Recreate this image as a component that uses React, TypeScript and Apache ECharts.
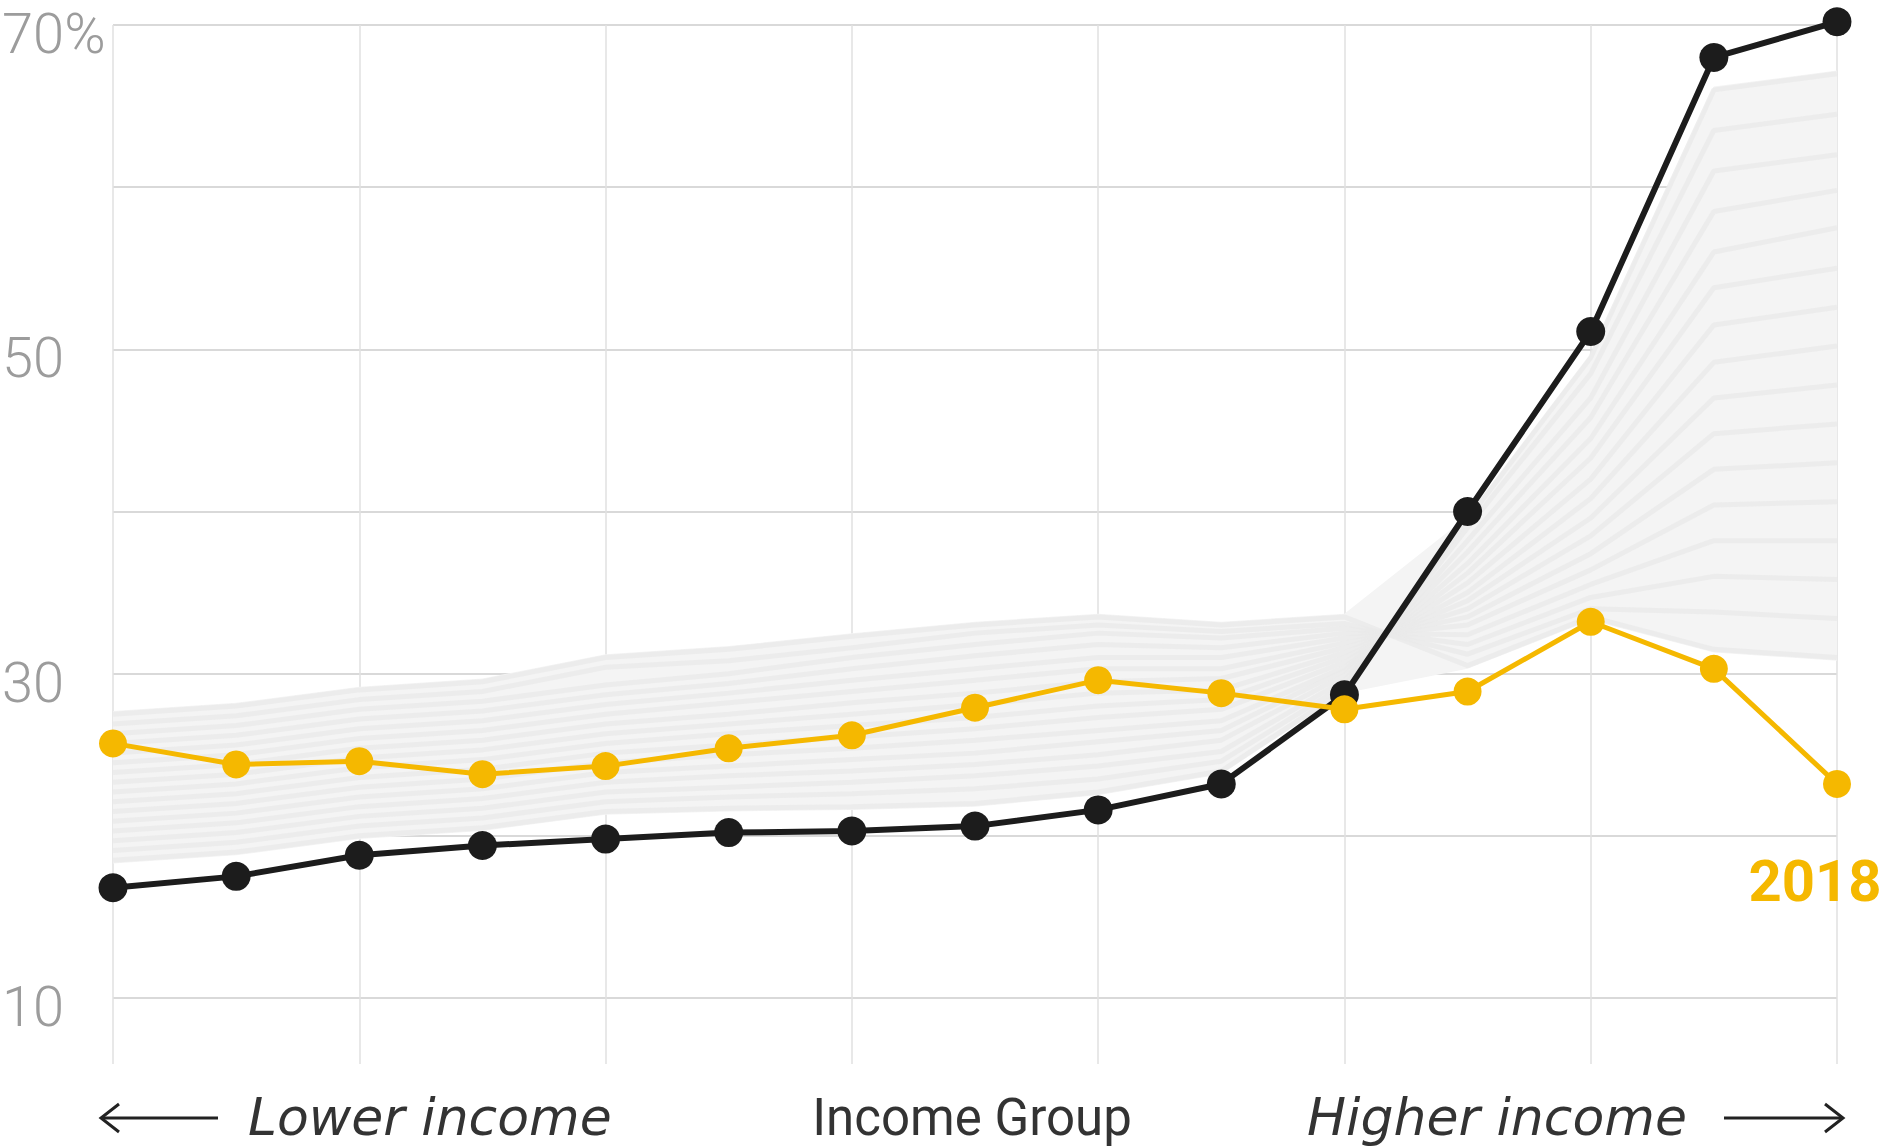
import React, { useEffect, useRef } from "react";
import * as echarts from "echarts";

// Income groups, lowest to highest
const groups = ["1", "2", "3", "4", "5", "6", "7", "8", "9", "10", "11", "12", "13", "14", "15"];

// Highlighted early year (black) and 2018 (yellow), percent
const earlyYear = [16.8, 17.5, 18.8, 19.4, 19.8, 20.2, 20.3, 20.6, 21.6, 23.2, 28.7, 40.0, 51.1, 68.0, 70.2];
const year2018 = [25.7, 24.4, 24.6, 23.8, 24.3, 25.4, 26.2, 27.9, 29.6, 28.8, 27.8, 28.9, 33.2, 30.3, 23.2];

// Background years (light gray)
const gray01 = [18.5, 19.0, 20.0, 20.5, 21.5, 21.7, 21.8, 22.0, 22.7, 24.0, 29.0, 39.5, 49.5, 66.0, 67.0];
const gray02 = [19.1, 19.6, 20.6, 21.1, 22.1, 22.4, 22.6, 22.9, 23.5, 24.6, 29.3, 39.0, 48.5, 63.5, 64.5];
const gray03 = [19.7, 20.2, 21.2, 21.7, 22.7, 23.0, 23.3, 23.7, 24.3, 25.2, 29.6, 38.2, 47.0, 61.0, 62.0];
const gray04 = [20.3, 20.8, 21.8, 22.3, 23.3, 23.7, 24.0, 24.4, 25.0, 25.9, 29.9, 37.5, 45.8, 58.5, 59.8];
const gray05 = [20.9, 21.4, 22.4, 22.9, 23.9, 24.3, 24.7, 25.1, 25.8, 26.5, 30.2, 36.8, 44.5, 56.0, 57.5];
const gray06 = [21.5, 22.0, 23.0, 23.5, 24.5, 25.0, 25.4, 25.9, 26.5, 27.1, 30.4, 36.2, 43.3, 53.8, 55.0];
const gray07 = [22.1, 22.6, 23.6, 24.1, 25.1, 25.6, 26.1, 26.6, 27.3, 27.8, 30.7, 35.6, 42.0, 51.5, 52.6];
const gray08 = [22.7, 23.2, 24.2, 24.7, 25.7, 26.3, 26.8, 27.3, 28.0, 28.4, 31.0, 35.0, 40.8, 49.2, 50.2];
const gray09 = [23.3, 23.8, 24.8, 25.3, 26.3, 26.9, 27.5, 28.1, 28.8, 29.0, 31.3, 34.5, 39.6, 47.0, 47.8];
const gray10 = [23.9, 24.4, 25.4, 25.9, 26.9, 27.5, 28.2, 28.8, 29.5, 29.7, 31.6, 34.0, 38.5, 44.8, 45.4];
const gray11 = [24.5, 25.0, 26.0, 26.5, 27.5, 28.2, 28.9, 29.6, 30.3, 30.3, 31.9, 33.5, 37.4, 42.6, 43.0];
const gray12 = [25.1, 25.6, 26.6, 27.1, 28.1, 28.8, 29.6, 30.3, 31.0, 31.0, 32.2, 33.0, 36.4, 40.4, 40.6];
const gray13 = [25.7, 26.2, 27.2, 27.7, 28.7, 29.4, 30.3, 31.1, 31.8, 31.6, 32.5, 32.4, 35.5, 38.2, 38.2];
const gray14 = [26.3, 26.8, 27.8, 28.3, 29.3, 30.0, 31.0, 31.8, 32.5, 32.2, 32.8, 31.8, 34.7, 36.0, 35.8];
const gray15 = [26.9, 27.4, 28.4, 28.9, 30.4, 30.8, 31.6, 32.5, 33.0, 32.6, 33.1, 31.2, 34.0, 33.8, 33.4];
const gray16 = [27.5, 28.0, 29.0, 29.5, 31.0, 31.5, 32.3, 33.0, 33.5, 33.0, 33.5, 30.5, 33.5, 31.5, 31.0];

const grayYears = [gray01, gray02, gray03, gray04, gray05, gray06, gray07, gray08, gray09, gray10, gray11, gray12, gray13, gray14, gray15, gray16];

// Envelope of all background years
const bandLow = [18.3, 18.8, 19.8, 20.3, 21.3, 21.5, 21.6, 21.8, 22.5, 23.8, 28.8, 30.3, 33.3, 31.3, 30.8];
const bandHigh = [27.7, 28.2, 29.2, 29.7, 31.2, 31.7, 32.5, 33.2, 33.7, 33.2, 33.7, 39.7, 49.7, 66.2, 67.2];

// Y tick labels
const yLabelValues = [10, 30, 50, 70];
const yLabelTexts = ["10", "30", "50", "70%"];

const highlightLabel = "2018";
const xTitle = "Income Group";
const xLeft = "Lower income";
const xRight = "Higher income";

const YELLOW = "#F5B800";
const BLACK = "#1c1c1c";

export default function App() {
  const ref = useRef<HTMLDivElement>(null);

  useEffect(() => {
    if (!ref.current) return;
    const chart = echarts.init(ref.current, null, { renderer: "svg" });

    const yellowData = year2018.map((v, i) =>
      i === year2018.length - 1
        ? {
            value: v,
            label: {
              show: true,
              formatter: highlightLabel,
              position: "inside",
              offset: [-22, 97],
              color: YELLOW,
              fontSize: 58,
              fontWeight: "bold",
              fontFamily: "Roboto",
            },
          }
        : v
    );

    const bandSpan = bandHigh.map((h, i) => +(h - bandLow[i]).toFixed(2));

    const option: any = {
      animation: false,
      backgroundColor: "#ffffff",
      grid: { left: 113, right: 60, top: 25, bottom: 150, containLabel: false, outerBoundsMode: "none" },
      xAxis: {
        type: "category",
        data: groups,
        boundaryGap: false,
        axisLine: { show: false },
        axisLabel: { show: false },
        axisTick: { show: true, interval: 1, length: 66, lineStyle: { color: "#e0e0e0", width: 1.5 } },
        splitLine: { show: true, interval: 1, lineStyle: { color: "#e0e0e0", width: 1.5 } },
      },
      yAxis: {
        type: "value",
        min: 10,
        max: 70,
        interval: 10,
        axisLine: { show: false },
        axisTick: { show: false },
        splitLine: { lineStyle: { color: "#d9d9d9", width: 2 } },
        axisLabel: {
          formatter: (v: number) => {
            const k = yLabelValues.indexOf(v);
            return k >= 0 ? yLabelTexts[k] : "";
          },
          align: "left",
          verticalAlign: "top",
          lineHeight: 18,
          margin: 111,
          color: "#9c9c9c",
          fontSize: 56,
          fontFamily: "Roboto",
          fontWeight: 300,
        },
      },
      series: [
        {
          type: "line",
          data: bandLow,
          stack: "envelope",
          symbol: "none",
          silent: true,
          z: 1,
          lineStyle: { opacity: 0 },
        },
        {
          type: "line",
          data: bandSpan,
          stack: "envelope",
          symbol: "none",
          silent: true,
          z: 1,
          lineStyle: { opacity: 0 },
          areaStyle: { color: "#f4f4f4", opacity: 1 },
        },
        ...grayYears.map((d) => ({
          type: "line",
          data: d,
          symbol: "none",
          silent: true,
          clip: false,
          z: 2,
          lineStyle: { color: "#eaeaea", width: 5, opacity: 0.8 },
        })),
        {
          type: "line",
          data: earlyYear,
          symbol: "circle",
          symbolSize: 29,
          clip: false,
          z: 3,
          itemStyle: { color: BLACK },
          lineStyle: { color: BLACK, width: 6 },
        },
        {
          type: "line",
          data: yellowData,
          symbol: "circle",
          symbolSize: 28,
          clip: false,
          z: 4,
          itemStyle: { color: YELLOW },
          lineStyle: { color: YELLOW, width: 5 },
        },
      ],
      graphic: [
        {
          type: "line",
          shape: { x1: 101, y1: 1118, x2: 218, y2: 1118 },
          style: { stroke: "#222", lineWidth: 3 },
        },
        {
          type: "polyline",
          shape: { points: [[119, 1104], [101, 1118], [119, 1132]] },
          style: { stroke: "#222", lineWidth: 3, fill: null },
        },
        {
          type: "text",
          x: 248,
          y: 1117,
          style: {
            text: xLeft,
            fill: "#333",
            fontSize: 52,
            lineHeight: 52,
            fontStyle: "italic",
            fontFamily: "DejaVu Sans",
            verticalAlign: "middle",
            align: "left",
          },
        },
        {
          type: "text",
          x: 972,
          y: 1117,
          style: {
            text: xTitle,
            fill: "#333",
            fontSize: 51,
            lineHeight: 51,
            fontFamily: "Roboto",
            verticalAlign: "middle",
            align: "center",
          },
        },
        {
          type: "text",
          x: 1307,
          y: 1117,
          style: {
            text: xRight,
            fill: "#333",
            fontSize: 52,
            lineHeight: 52,
            fontStyle: "italic",
            fontFamily: "DejaVu Sans",
            verticalAlign: "middle",
            align: "left",
          },
        },
        {
          type: "line",
          shape: { x1: 1724, y1: 1118, x2: 1843, y2: 1118 },
          style: { stroke: "#222", lineWidth: 3 },
        },
        {
          type: "polyline",
          shape: { points: [[1825, 1104], [1843, 1118], [1825, 1132]] },
          style: { stroke: "#222", lineWidth: 3, fill: null },
        },
      ],
    };

    chart.setOption(option);
    return () => chart.dispose();
  }, []);

  return (
    <div
      ref={ref}
      style={{ position: "absolute", left: 0, top: 0, width: 1897, height: 1148, background: "#fff" }}
    />
  );
}
